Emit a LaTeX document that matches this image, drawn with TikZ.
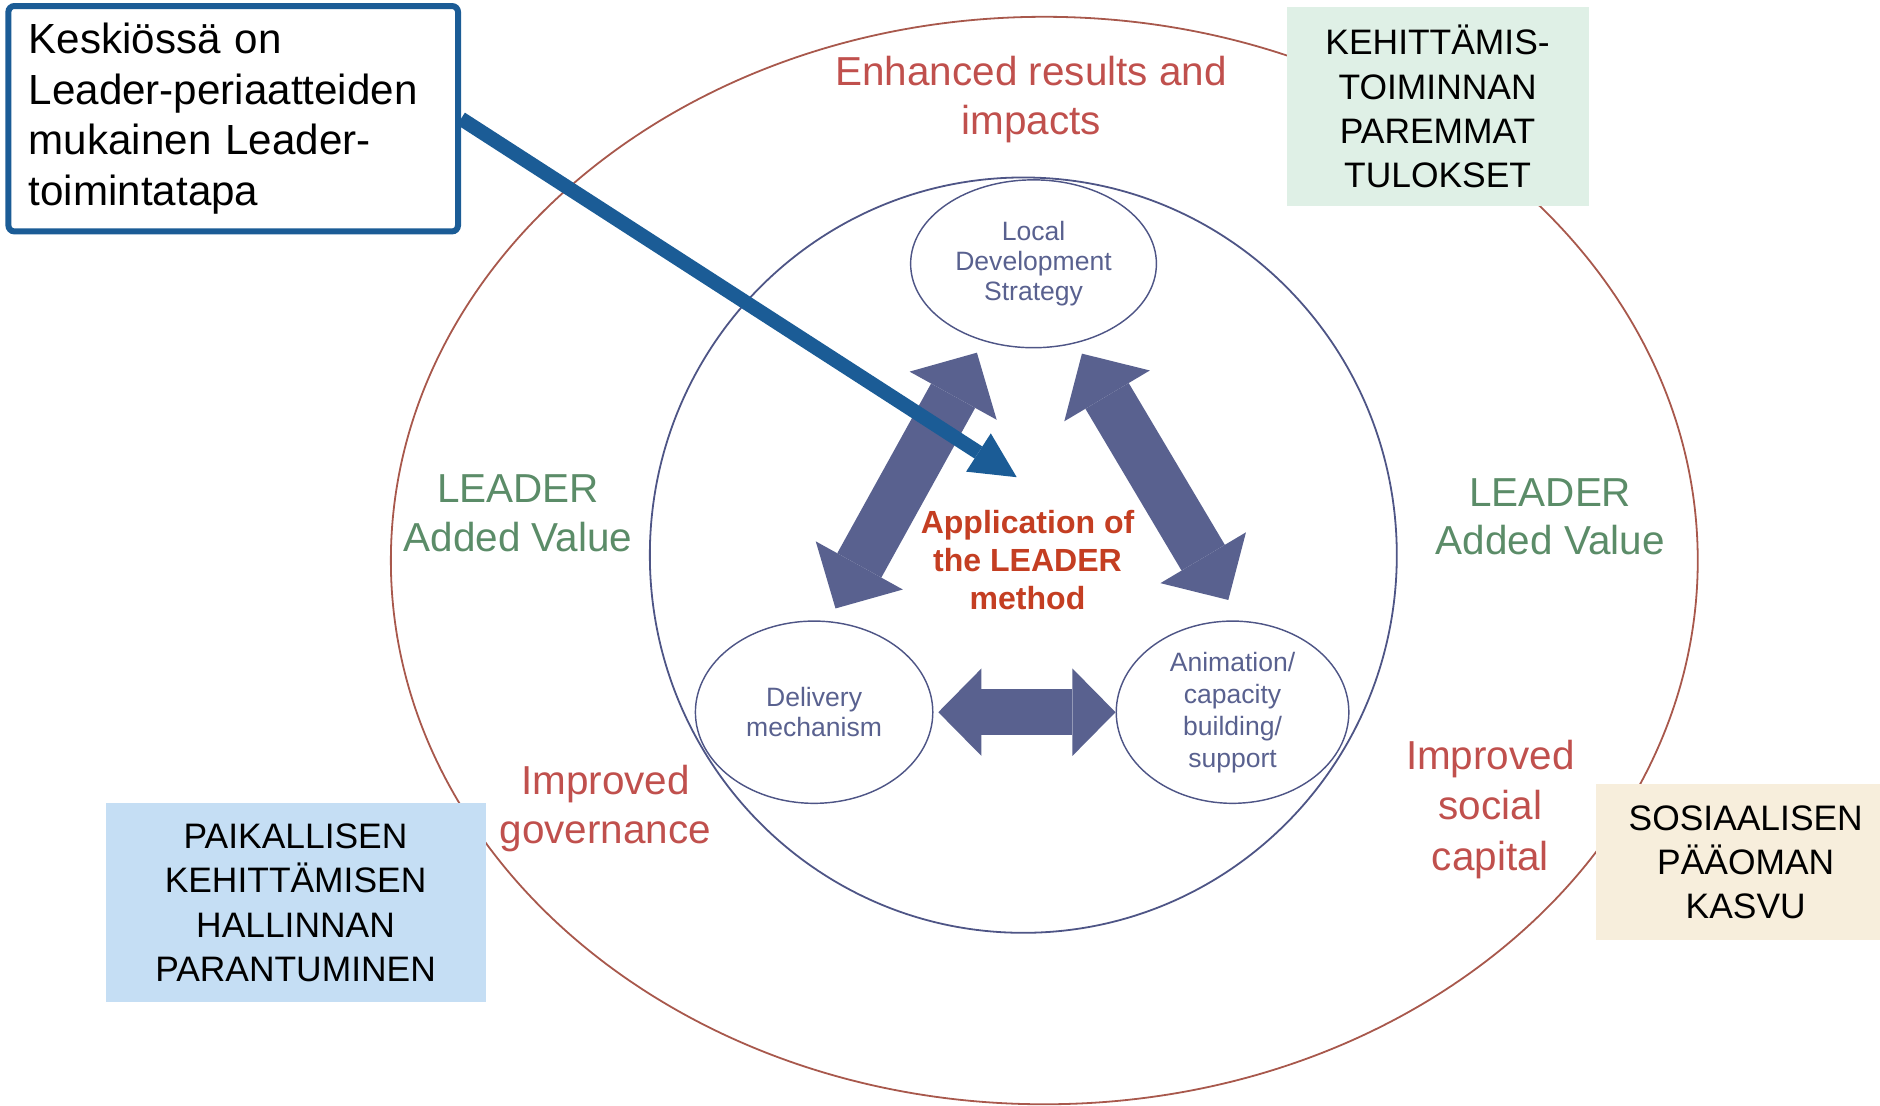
\documentclass[tikz,border=0pt]{standalone}
\usepackage{fontspec}
\setmainfont{Liberation Sans}
\usetikzlibrary{arrows.meta,shapes.geometric}
\definecolor{ringred}{HTML}{A8584C}
\definecolor{ringblue}{HTML}{4E5586}
\definecolor{fatblue}{HTML}{59618F}
\definecolor{callblue}{HTML}{1B5C96}
\definecolor{labred}{HTML}{C0504D}
\definecolor{appred}{HTML}{C43E22}
\definecolor{labgreen}{HTML}{5B8C68}
\definecolor{boxgreen}{HTML}{DFF0E6}
\definecolor{boxblue}{HTML}{C5DEF4}
\definecolor{boxcream}{HTML}{F7EEDC}
\begin{document}
\begin{tikzpicture}[x=0.1mm,y=-0.1mm,
    lab/.style={align=center,font=\fontsize{9.6}{11.6}\selectfont},
    part/.style={ellipse,draw=ringblue,line width=0.12mm,inner sep=0pt,align=center,text=fatblue,font=\fontsize{6.3}{7.2}\selectfont},
    fin/.style={align=center,inner sep=0pt,font=\fontsize{8.4}{10.5}\selectfont},
    fat/.style={draw=fatblue,line width=4.2mm,>={Triangle[width=8.3mm,length=4.1mm,line width=0pt]},<->}]
      \useasboundingbox (0,0) rectangle (1568,922);
      \draw[ringred,line width=0.15mm] (871,467.5) ellipse [x radius=545, y radius=453.5];
      \draw[ringblue,line width=0.15mm] (853.5,463) ellipse [x radius=311.5, y radius=315];

      \node[part,minimum width=20.5mm,minimum height=14mm] (lds) at (862,220) {Local\\Development\\Strategy};
      \node[part,minimum width=19.8mm,minimum height=15.2mm] (dm) at (679,594) {Delivery\\mechanism};
      \node[part,minimum width=19.4mm,minimum height=15.2mm,font=\fontsize{6.3}{7.6}\selectfont] (anim) at (1028,594) {Animation/\\capacity\\building/\\support};
      \node[align=center,text=appred,font=\bfseries\fontsize{7.6}{9.1}\selectfont] (app) at (857,467) {Application of\\the LEADER\\method};

      \node[lab,text=labred] (results) at (860,83) {Enhanced results and\\impacts};
      \node[lab,text=labgreen] (avleft) at (432,428) {LEADER\\Added Value};
      \node[lab,text=labgreen] (avright) at (1293,431) {LEADER\\Added Value};
      \node[lab,text=labred] (gov) at (505,674) {Improved\\governance};
      \node[lab,text=labred,font=\fontsize{9.6}{12}\selectfont] (social) at (1243,675) {Improved\\social\\capital};

      \draw[fat,shorten <=1.2mm,shorten >=1.1mm] (dm.81) -- (lds.237);
      \draw[fat,shorten <=1mm,shorten >=2mm] (lds.298) -- (anim.85);
      \draw[fat,line width=3.8mm,>={Triangle[width=7.3mm,length=3.6mm,line width=0pt]},shorten <=0.4mm] (dm.east) -- (anim.west);

      \node[fin,fill=boxgreen,minimum width=25.2mm,minimum height=16.6mm] (tulokset) at (1199,89) {KEHITTÄMIS-\\TOIMINNAN\\PAREMMAT\\TULOKSET};
      \node[fin,fill=boxblue,minimum width=31.7mm,minimum height=16.6mm] (hallinta) at (246.5,753) {PAIKALLISEN\\KEHITTÄMISEN\\HALLINNAN\\PARANTUMINEN};
      \node[fin,fill=boxcream,minimum width=25mm,minimum height=13mm] (paaoma) at (1456,719) {SOSIAALISEN\\PÄÄOMAN\\KASVU};

      \node[draw=callblue,line width=0.5mm,rounded corners=0.5mm,fill=white,align=left,text width=34.1mm,inner xsep=1.7mm,minimum height=18.8mm,font=\fontsize{10}{12}\selectfont] (callout) at (194.5,99) {Keskiössä on\\Leader-periaatteiden\\mukainen Leader-\\toimintatapa};
      \coordinate (aim) at (848,398);
      \draw[callblue,line width=1.2mm,-{Triangle[width=3.8mm,length=3.8mm,line width=0pt]}] (callout.east) -- (aim);
\end{tikzpicture}
\end{document}
